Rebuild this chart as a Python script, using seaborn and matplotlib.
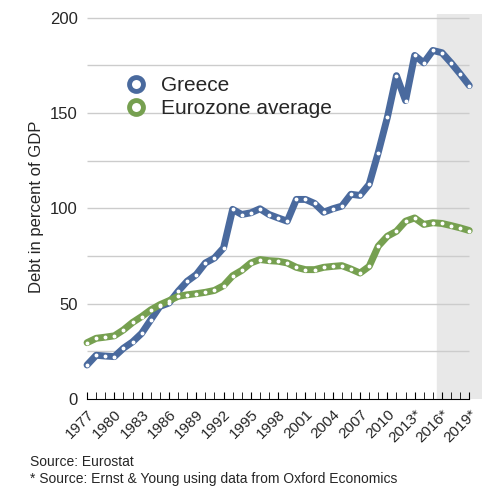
import matplotlib
matplotlib.use("Agg")
import matplotlib.pyplot as plt
import seaborn as sns
import pandas as pd

years = list(range(1977, 2020))
greece = [17.9,23,22.6,22.3,26.7,30,34.5,41.6,48.6,50.4,56.5,61.8,65.3,71.4,74,79.3,99.5,96.8,97.7,99.8,96.8,95,93.3,104.7,104.7,102.6,98,99.8,101.2,107.4,106.8,112.6,129.3,147.7,169.6,156.5,180.2,176.3,182.8,181.6,176.3,170.5,164.4]
eurozone = [29.6,31.9,32.5,33.2,36.3,40.2,43.3,46.8,49.5,51.6,53.9,54.7,55.3,56,57,59.5,64.7,67.5,71.4,73.2,72.6,72.3,71.4,69.1,67.9,67.9,69.1,69.6,70,68.2,66.1,69.6,80.2,85.4,88,93.3,95,91.6,92.5,92.1,91,89.8,88.4]
tick_years = list(range(1977, 2020, 3))
tick_labels = [str(y) + ("*" if y >= 2013 else "") for y in tick_years]

df = pd.DataFrame({"year": years*2, "debt": greece+eurozone,
                   "series": ["Greece"]*len(years)+["Eurozone average"]*len(years)})

sns.set_style("white")
plt.rcParams['font.family'] = ['Liberation Sans', 'DejaVu Sans']
fig = plt.figure(figsize=(5, 4.94), dpi=100)
ax = fig.add_axes([0.165, 0.192, 0.799, 0.78])
ax.axvspan(2015.5, 2020.4, color="#e8e8e8", zorder=0)
for v in range(25, 201, 25):
    ax.hlines(v, 1977, 2019, color="#cccccc", lw=1, zorder=1)
palette = {"Greece": "#4a6a9e", "Eurozone average": "#76a050"}
sns.lineplot(data=df, x="year", y="debt", hue="series", palette=palette, lw=5,
             ax=ax, legend=False, zorder=3)
for name, vals in [("Greece", greece), ("Eurozone average", eurozone)]:
    ax.plot(years, vals, "o", ms=1.8, color="white", zorder=4)
from matplotlib.lines import Line2D
handles = [Line2D([], [], color=palette[k], marker="o", ms=10, mfc="none", mew=3.5, lw=0)
           for k in ["Greece", "Eurozone average"]]
ax.legend(handles, ["Greece", "Eurozone average"], loc="upper left", bbox_to_anchor=(0.06, 0.86),
          frameon=False, fontsize=15, handletextpad=0.2, labelspacing=0.2, borderaxespad=0)
ax.set_xlim(1976.5, 2020.4)
ax.set_ylim(0, 202)
ax.set_yticks([0, 50, 100, 150, 200])
ax.set_xticks(tick_years)
ax.set_xticklabels(tick_labels, rotation=45, ha="right", rotation_mode="anchor", fontsize=11)
ax.set_xticks(years, minor=True)
ax.tick_params(axis="x", which="both", direction="in", length=5, color="black", bottom=True, pad=6)
ax.tick_params(axis="y", labelsize=12, length=0)
for s in ["top", "right", "left"]:
    ax.spines[s].set_visible(False)
ax.spines["bottom"].set_bounds(1977, 2019)
ax.spines["bottom"].set_color("black")
ax.set_xlabel("")
ax.set_ylabel("Debt in percent of GDP", fontsize=12)
fig.text(0.06, 0.057, "Source: Eurostat", fontsize=10)
fig.text(0.06, 0.022, "* Source: Ernst & Young using data from Oxford Economics", fontsize=10)
fig.savefig("out.png", dpi=100)
